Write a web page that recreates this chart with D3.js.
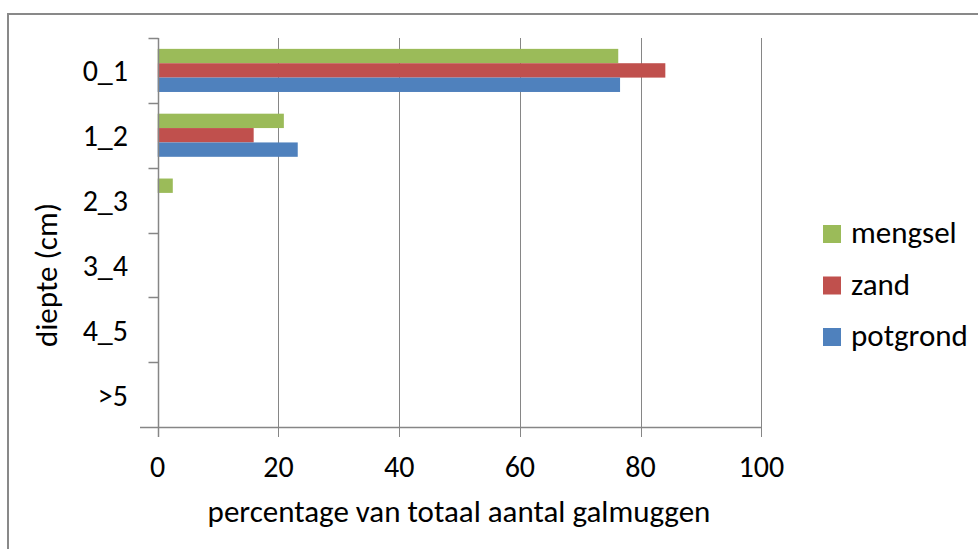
<!DOCTYPE html>
<html>
<head>
<meta charset="utf-8">
<script src="https://cdn.jsdelivr.net/npm/d3@7"></script>
<style>
  body { margin: 0; background: #fff; }
  text { font-family: Carlito, Calibri, "Liberation Sans", sans-serif; fill: #000; }
</style>
</head>
<body>
<svg id="chart" width="978" height="549"></svg>
<script>
// categories (top to bottom) and series
const categories = ["0_1", "1_2", "2_3", "3_4", "4_5", ">5"];
const seriesNames = ["mengsel", "zand", "potgrond"];
const mengsel = [76.3, 20.9, 2.5, 0, 0, 0];
const zand = [84.1, 15.9, 0, 0, 0, 0];
const potgrond = [76.6, 23.2, 0, 0, 0, 0];
const xTicks = [0, 20, 40, 60, 80, 100];
const colors = ["#9BBB59", "#C0504D", "#4F81BD"];

const values = [mengsel, zand, potgrond];
const svg = d3.select("#chart");
const axisColor = "#868686";

// outer chart border
svg.append("rect")
    .attr("x", 8).attr("y", 14)
    .attr("width", 990).attr("height", 560)
    .attr("fill", "none").attr("stroke", "#898989").attr("stroke-width", 2);

const plotLeft = 157.7, plotRight = 761.3, plotTop = 38, plotBottom = 427;

const x = d3.scaleLinear().domain([0, 100]).range([plotLeft, plotRight]);
const y = d3.scaleBand().domain(categories).range([plotTop, plotBottom]).paddingInner(0.335).paddingOuter(0.1675);
const ySub = d3.scaleBand().domain(seriesNames).range([0, y.bandwidth()]);

// vertical gridlines
svg.append("g").selectAll("line")
    .data(xTicks.slice(1))
    .enter().append("line")
    .attr("x1", d => Math.round(x(d)) + 0.5).attr("x2", d => Math.round(x(d)) + 0.5)
    .attr("y1", plotTop).attr("y2", plotBottom + 10)
    .attr("stroke", axisColor).attr("stroke-width", 1);

// bars
categories.forEach((c, i) => {
    seriesNames.forEach((s, j) => {
        const v = values[j][i];
        if (v <= 0) return;
        svg.append("rect")
            .attr("x", x(0))
            .attr("y", y(c) + ySub(s))
            .attr("width", x(v) - x(0))
            .attr("height", ySub.bandwidth())
            .attr("fill", colors[j]);
    });
});

// y axis
const y0 = Math.round(plotLeft) + 0.5;
const yAxis = svg.append("g").attr("transform", `translate(${y0},0)`);
yAxis.append("line").attr("x1", 0).attr("x2", 0).attr("y1", plotTop).attr("y2", plotBottom)
    .attr("stroke", axisColor).attr("stroke-width", 1.5);
const step = y.step();
d3.range(categories.length).forEach(k => {
    const ty = Math.round(plotTop + k * step) + 0.5;
    yAxis.append("line").attr("x1", -10).attr("x2", 0)
        .attr("y1", ty).attr("y2", ty)
        .attr("stroke", axisColor).attr("stroke-width", 1.5);
});
yAxis.selectAll("text.cat")
    .data(categories)
    .enter().append("text")
    .attr("class", "cat")
    .attr("x", 128 - y0)
    .attr("y", d => y(d) + y.bandwidth() / 2 + 11)
    .attr("text-anchor", "end")
    .style("font-size", "30px")
    .text(d => d);

// x axis
const xAxis = svg.append("g");
xAxis.append("line").attr("x1", 140).attr("x2", plotRight + 0.5).attr("y1", plotBottom + 0.5).attr("y2", plotBottom + 0.5)
    .attr("stroke", axisColor).attr("stroke-width", 1.5);
xAxis.append("line").attr("x1", y0).attr("x2", y0).attr("y1", plotBottom).attr("y2", plotBottom + 10)
    .attr("stroke", axisColor).attr("stroke-width", 1.5);
xAxis.selectAll("text")
    .data(xTicks)
    .enter().append("text")
    .attr("x", d => x(d))
    .attr("y", 477)
    .attr("text-anchor", "middle")
    .style("font-size", "30px")
    .text(d => d);

// axis titles
svg.append("text")
    .attr("x", 459).attr("y", 522)
    .attr("text-anchor", "middle")
    .style("font-size", "31px")
    .text("percentage van totaal aantal galmuggen");

svg.append("text")
    .attr("transform", "translate(57,275) rotate(-90)")
    .attr("text-anchor", "middle")
    .style("font-size", "31px")
    .text("diepte (cm)");

// legend
const legend = svg.append("g").attr("transform", "translate(823,225)");
const items = legend.selectAll("g")
    .data(seriesNames)
    .enter().append("g")
    .attr("transform", (d, i) => `translate(0, ${i * 51.5})`);
items.append("rect")
    .attr("width", 18).attr("height", 18)
    .attr("fill", (d, i) => colors[i]);
items.append("text")
    .attr("x", 28).attr("y", 18)
    .style("font-size", "31px")
    .text(d => d);
</script>
</body>
</html>
